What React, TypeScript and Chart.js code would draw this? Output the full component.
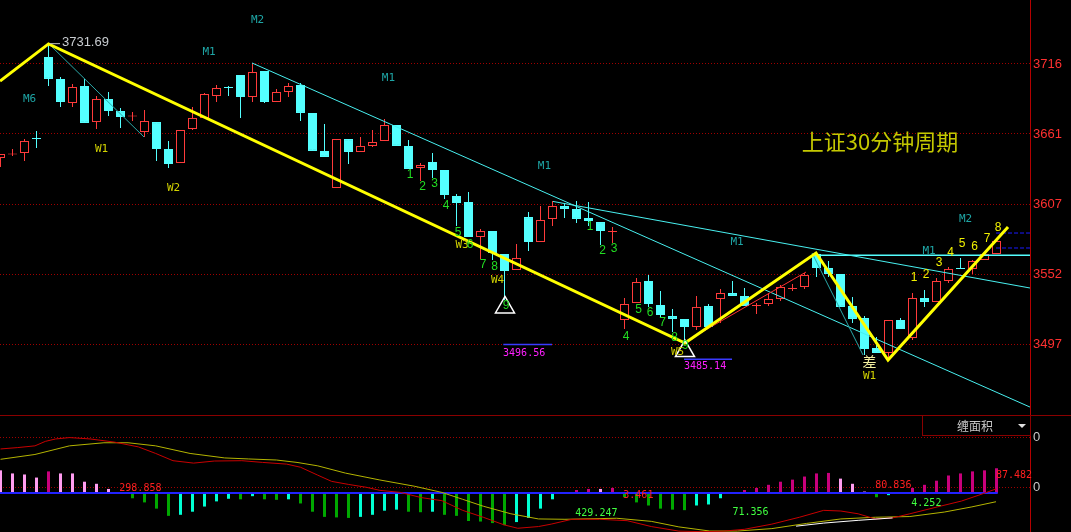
import React, { useEffect, useRef } from 'react';
import { Chart, registerables } from 'chart.js';

Chart.register(...registerables);

// ---------------- price panel data (30-minute candles) ----------------
const opens = [
  3642.5, 3645.2, 3646.4, 3657.6, 3721.5, 3704.3, 3685.5, 3698.8, 3670.6, 3688.6,
  3679.2, 3674.9, 3662.8, 3670.6, 3649.5, 3638.6, 3665.2, 3673.8, 3691.0, 3697.6,
  3707.4, 3690.2, 3710.5, 3686.3, 3694.1, 3699.6, 3677.7, 3648.0, 3619.0, 3657.3,
  3647.2, 3651.9, 3655.8, 3668.3, 3651.9, 3634.7, 3639.4, 3633.1, 3612.8, 3608.1,
  3580.7, 3585.4, 3567.4, 3554.9, 3596.3, 3576.8, 3594.8, 3604.9, 3602.6, 3595.6,
  3592.4, 3584.6, 3515.8, 3529.1, 3546.3, 3527.5, 3518.9, 3516.6, 3510.3, 3526.7,
  3532.2, 3536.9, 3534.6, 3526.7, 3528.3, 3532.2, 3540.0, 3541.6, 3567.4, 3556.4,
  3551.8, 3526.7, 3517.3, 3493.9, 3490.0, 3515.8, 3501.7, 3533.0, 3529.9, 3546.3,
  3556.0, 3555.7, 3562.7, 3567.4,
];
const highs = [
  3645.6, 3649.5, 3657.3, 3663.6, 3731.69, 3705.8, 3700.4, 3704.3, 3691.0, 3694.1,
  3681.6, 3678.5, 3680.0, 3670.6, 3655.8, 3664.4, 3682.4, 3693.3, 3699.6, 3698.8,
  3707.4, 3716.8, 3710.5, 3696.4, 3701.1, 3701.1, 3677.7, 3669.1, 3657.3, 3657.3,
  3658.9, 3664.4, 3673.0, 3668.3, 3656.6, 3638.6, 3646.4, 3633.1, 3614.3, 3615.9,
  3587.0, 3585.4, 3567.4, 3575.2, 3600.3, 3604.9, 3608.9, 3607.3, 3608.9, 3608.1,
  3592.4, 3588.5, 3533.0, 3548.6, 3551.0, 3538.5, 3524.4, 3516.6, 3534.6, 3528.3,
  3540.0, 3546.3, 3540.8, 3529.1, 3536.9, 3543.2, 3543.9, 3552.5, 3568.2, 3561.9,
  3551.8, 3533.8, 3518.9, 3502.5, 3515.8, 3517.3, 3536.9, 3539.2, 3548.6, 3557.2,
  3564.3, 3562.7, 3567.4, 3577.6,
];
const lows = [
  3635.4, 3644.0, 3640.1, 3650.3, 3698.8, 3682.4, 3682.4, 3669.9, 3665.2, 3675.3,
  3666.0, 3671.4, 3658.9, 3640.1, 3634.7, 3638.6, 3664.4, 3673.8, 3686.3, 3691.0,
  3673.8, 3686.3, 3685.5, 3686.3, 3690.2, 3671.4, 3648.0, 3643.3, 3619.0, 3637.8,
  3647.2, 3651.1, 3655.8, 3651.9, 3633.9, 3624.5, 3626.8, 3610.4, 3589.3, 3580.7,
  3563.5, 3562.7, 3531.4, 3554.9, 3569.7, 3576.8, 3589.3, 3595.6, 3591.6, 3589.3,
  3574.4, 3576.0, 3508.7, 3529.1, 3526.0, 3518.1, 3506.4, 3497.0, 3508.0, 3510.3,
  3513.4, 3534.6, 3526.7, 3520.5, 3526.7, 3530.6, 3538.5, 3540.0, 3549.4, 3549.4,
  3526.0, 3513.4, 3488.4, 3490.0, 3486.1, 3508.7, 3500.1, 3526.0, 3529.9, 3544.7,
  3555.7, 3551.8, 3562.7, 3567.4,
];
const closes = [
  3645.6, 3645.6, 3655.8, 3657.3, 3704.3, 3686.3, 3698.0, 3669.9, 3688.6, 3679.2,
  3674.5, 3675.3, 3671.4, 3649.5, 3637.8, 3664.4, 3673.8, 3692.5, 3697.2, 3697.2,
  3690.2, 3709.7, 3686.3, 3694.1, 3698.8, 3677.7, 3648.0, 3643.3, 3657.3, 3647.2,
  3651.9, 3655.0, 3668.3, 3651.9, 3633.9, 3637.0, 3633.1, 3613.5, 3607.3, 3580.7,
  3585.4, 3568.2, 3554.1, 3564.3, 3576.8, 3594.0, 3604.9, 3602.6, 3594.8, 3593.2,
  3585.4, 3585.4, 3528.3, 3545.5, 3528.3, 3519.7, 3516.6, 3510.3, 3526.0, 3510.3,
  3536.9, 3534.6, 3526.7, 3527.5, 3532.2, 3541.6, 3540.8, 3551.0, 3556.4, 3551.8,
  3526.0, 3516.6, 3493.1, 3490.0, 3515.8, 3508.7, 3533.0, 3529.9, 3546.3, 3555.7,
  3555.7, 3561.9, 3567.4, 3577.6,
];

const priceTickValues = [3716, 3661.25, 3606.5, 3551.75, 3497];
const priceTickLabels = ['3716', '3661', '3607', '3552', '3497'];
const PRICE_MIN = 3441.48;
const PRICE_MAX = 3766.05;

// trend lines (index, price)
const zigzagIdx = [-0.04, 4, 57.04, 67.96, 73.96, 83.96];
const zigzagPrice = [3702.7, 3731.69, 3497.8, 3568.2, 3484.5, 3588.5];
const redSeg1Idx = [57.08, 67.13];
const redSeg1Price = [3498.9, 3553.3];
const redSeg2Idx = [74.13, 78.71];
const redSeg2Price = [3485.7, 3534.6];
const tealSeg1Idx = [3.96, 11.96];
const tealSeg1Price = [3732.4, 3658.9];
const tealSeg2Idx = [67.63, 71.88];
const tealSeg2Price = [3568.2, 3488.4];
const cyanLine1Idx = [20.96, 85.79];
const cyanLine1Price = [3716.8, 3447.7];
const cyanLine2Idx = [46.04, 85.79];
const cyanLine2Price = [3608.5, 3540.8];
const cyanFlatIdx = [67.96, 85.79];
const cyanFlatPrice = [3566.4, 3566.4];
const blueDashIdx = [82.96, 85.79];
const blueDashPrices = [3583.8, 3572.1];
const peakTagIdx = [4.13, 4.96];
const peakTagPrice = [3731.9, 3731.9];
const lowTagIdx1 = [41.9, 45.96];
const lowTagPrice1 = 3496.56;
const lowTagIdx2 = [56.96, 60.96];
const lowTagPrice2 = 3485.14;
const triangleIdx = [42.04, 57.04];
const trianglePrice = [3525.6, 3491.5];

// ---------------- indicator panel data ----------------
const macdBars = [
  80.2, 69.3, 65.6, 54.7, 76.5, 69.3, 69.3, 40.1, 32.8, 14.6,
  -1.8, -18.2, -32.8, -54.7, -80.2, -76.5, -65.6, -47.4, -29.2, -20.0,
  -21.9, -10.9, -21.9, -23.7, -21.9, -36.5, -65.6, -83.8, -85.7, -87.5,
  -83.8, -76.5, -62.0, -58.3, -65.6, -67.4, -65.6, -76.5, -80.2, -98.4,
  -100.2, -105.7, -113.0, -102.1, -87.5, -54.7, -21.9, -2.9, 10.9, 14.6,
  14.6, 18.2, -14.6, -32.8, -43.7, -54.7, -58.3, -60.1, -43.7, -40.1,
  -18.2, 3.6, 10.9, 18.2, 29.2, 40.1, 47.4, 58.3, 69.3, 71.1,
  51.0, 32.8, 5.5, -14.6, -7.3, 3.6, 18.2, 29.2, 43.7, 62.0,
  69.3, 76.5, 80.2, 87.5,
];
const difIdx = [
  0, 1.44, 2.87, 3.74, 4.6, 5.75, 7.47, 9.48, 11.49, 12.93, 14.37, 16.09, 17.82,
  20.11, 21.84, 23.85, 25.0, 26.44, 27.59, 29.02, 30.46, 31.61, 33.33, 35.06, 36.78,
  38.51, 40.23, 41.95, 43.1, 44.83, 45.89, 47.62, 49.92, 52.22, 54.23, 56.53, 58.54,
  60.26, 61.99, 64.28, 66.58, 68.6, 70.03, 71.47, 72.91, 74.34, 75.78, 78.08, 80.09,
  81.53, 82.96,
];
const difVal = [
  155.5, 160.4, 166.5, 182.3, 190.8, 195.6, 190.8, 179.8, 162.8, 139.7, 114.2, 105.7, 113.0,
  114.2, 108.1, 102.1, 91.1, 63.2, 41.3, 30.4, 20.7, 9.7, 2.4, -15.8, -26.7,
  -60.8, -85.1, -111.8, -123.9, -117.9, -109.4, -92.3, -92.3, -97.2, -117.9, -134.0, -136.0,
  -134.0, -127.6, -109.4, -85.1, -60.8, -63.2, -72.9, -91.1, -87.5, -72.9, -48.6, -27.9,
  -7.3, 14.6,
];
const deaIdx = [
  0, 2.87, 5.75, 8.62, 10.63, 12.93, 15.8, 18.68, 20.69, 22.99, 24.71, 26.44, 28.74,
  31.61, 34.48, 36.78, 38.51, 40.23, 42.53, 44.83, 47.04, 51.35, 54.23, 56.53, 59.11,
  61.41, 64.28, 67.16, 70.03, 72.91, 75.78, 78.65, 80.95, 82.96,
];
const deaVal = [
  119.1, 136.1, 166.5, 177.4, 177.4, 166.5, 139.7, 123.9, 120.3, 116.6, 108.1, 96.0, 70.5,
  46.2, 24.3, 2.4, -21.9, -46.2, -72.9, -91.1, -92.3, -88.7, -99.6, -119.1, -133.7,
  -133.7, -125.1, -106.9, -91.1, -85.1, -82.6, -66.8, -48.6, -30.4,
];
const whiteIdx = [66.3, 68.6, 71.47, 74.34];
const whiteVal = [-116.6, -105.7, -96.0, -87.5];
const zeroLineIdx = [-0.05, 83.1];
const macdTickValues = [197.0, 20.8];
const macdTickLabels = ['0', '0'];
const MACD_MIN = -137.1;
const MACD_MAX = 275.2;

const X_MIN = -0.0417;
const X_MAX = 85.7917;

// ---------------- styles ----------------
const RED = '#ff3b3b';
const CYAN = '#54ffff';
const TEAL = '#1ea5a5';
const WYEL = '#d2d200';
const GRN = '#22dd22';
const NYEL = '#f0f000';
const MONO = "11px 'DejaVu Sans Mono', monospace";
const MONO10 = "10px 'DejaVu Sans Mono', monospace";
const NUM = "12px 'Liberation Sans', Arial, sans-serif";

const topTexts = [
  { t: 'M6', x: 2.42, y: 3688.6, c: TEAL, f: MONO },
  { t: 'M1', x: 17.38, y: 3725.4, c: TEAL, f: MONO },
  { t: 'M2', x: 21.42, y: 3750.4, c: TEAL, f: MONO },
  { t: 'M1', x: 32.33, y: 3704.7, c: TEAL, f: MONO },
  { t: 'M1', x: 45.33, y: 3635.8, c: TEAL, f: MONO },
  { t: 'M1', x: 61.38, y: 3576.8, c: TEAL, f: MONO },
  { t: 'M1', x: 77.38, y: 3569.7, c: TEAL, f: MONO },
  { t: 'M2', x: 80.42, y: 3594.8, c: TEAL, f: MONO },
  { t: 'W1', x: 8.42, y: 3649.1, c: WYEL, f: MONO },
  { t: 'W2', x: 14.42, y: 3619.0, c: WYEL, f: MONO },
  { t: 'W3', x: 38.46, y: 3574.4, c: WYEL, f: MONO },
  { t: 'W4', x: 41.42, y: 3546.7, c: WYEL, f: MONO },
  { t: 'W5', x: 56.42, y: 3490.4, c: WYEL, f: MONO },
  { t: 'W1', x: 72.42, y: 3471.6, c: WYEL, f: MONO },
  { t: '1', x: 34.13, y: 3629.3, c: GRN, f: NUM },
  { t: '2', x: 35.17, y: 3619.9, c: GRN, f: NUM },
  { t: '3', x: 36.17, y: 3622.3, c: GRN, f: NUM },
  { t: '4', x: 37.13, y: 3605.1, c: GRN, f: NUM },
  { t: '5', x: 38.13, y: 3584.3, c: GRN, f: NUM },
  { t: '6', x: 39.13, y: 3574.5, c: GRN, f: NUM },
  { t: '7', x: 40.21, y: 3558.9, c: GRN, f: NUM },
  { t: '8', x: 41.17, y: 3557.7, c: GRN, f: NUM },
  { t: '9', x: 42.13, y: 3527.1, c: GRN, f: NUM },
  { t: '1', x: 49.13, y: 3588.6, c: GRN, f: NUM },
  { t: '2', x: 50.17, y: 3569.8, c: GRN, f: NUM },
  { t: '3', x: 51.13, y: 3571.4, c: GRN, f: NUM },
  { t: '4', x: 52.13, y: 3502.9, c: GRN, f: NUM },
  { t: '5', x: 53.17, y: 3524.0, c: GRN, f: NUM },
  { t: '6', x: 54.13, y: 3521.7, c: GRN, f: NUM },
  { t: '7', x: 55.17, y: 3513.8, c: GRN, f: NUM },
  { t: '8', x: 56.17, y: 3501.7, c: GRN, f: NUM },
  { t: '9', x: 57.08, y: 3495.8, c: GRN, f: NUM },
  { t: '1', x: 76.13, y: 3549.1, c: NYEL, f: NUM },
  { t: '2', x: 77.13, y: 3551.0, c: NYEL, f: NUM },
  { t: '3', x: 78.21, y: 3560.8, c: NYEL, f: NUM },
  { t: '4', x: 79.17, y: 3568.3, c: NYEL, f: NUM },
  { t: '5', x: 80.13, y: 3575.3, c: NYEL, f: NUM },
  { t: '6', x: 81.17, y: 3573.3, c: NYEL, f: NUM },
  { t: '7', x: 82.21, y: 3579.6, c: NYEL, f: NUM },
  { t: '8', x: 83.13, y: 3588.2, c: NYEL, f: NUM },
  { t: '差', x: 72.42, y: 3482.9, c: '#f4f0a0', f: "14px 'Noto Sans CJK SC', sans-serif" },
  { t: '上证30分钟周期', x: 73.29, y: 3655.2, c: '#c4c800', f: "22px 'Noto Sans CJK SC', sans-serif" },
  { t: '3731.69', x: 5.12, y: 3733.2, c: '#c8ccd0', f: "13px 'Liberation Sans', Arial, sans-serif", a: 'left' },
  { t: '3496.56', x: 41.88, y: 3490.0, c: '#ff20ff', f: MONO10, a: 'left' },
  { t: '3485.14', x: 56.96, y: 3479.3, c: '#ff20ff', f: MONO10, a: 'left' },
];

const macdTexts = [
  { t: '298.858', x: 9.9, y: 15.8, c: '#ff2020', f: MONO10, a: 'left' },
  { t: '3.461', x: 51.9, y: -7.3, c: '#ff2020', f: MONO10, a: 'left' },
  { t: '429.247', x: 47.9, y: -72.9, c: '#40ff40', f: MONO10, a: 'left' },
  { t: '71.356', x: 61.0, y: -66.8, c: '#40ff40', f: MONO10, a: 'left' },
  { t: '80.836', x: 72.9, y: 26.7, c: '#ff2020', f: MONO10, a: 'left' },
  { t: '4.252', x: 75.9, y: -36.5, c: '#40ff40', f: MONO10, a: 'left' },
  { t: '87.482', x: 82.96, y: 63.2, c: '#ff2020', f: MONO10, a: 'left' },
];

const pts = (xs: number[], ys: number[]) => xs.map((x, i) => ({ x, y: ys[i] }));

const seg = (data: any[], color: string, width: number, order: number, dash: number[] = []) => ({
  type: 'line',
  data,
  borderColor: color,
  borderWidth: width,
  borderDash: dash,
  pointRadius: 0,
  fill: false,
  tension: 0,
  order,
});

const textPlugin = (id: string, items: any[]) => ({
  id,
  afterDatasetsDraw(chart: any) {
    const { ctx, scales } = chart;
    ctx.save();
    for (const it of items) {
      ctx.font = it.f;
      ctx.fillStyle = it.c;
      ctx.textAlign = it.a || 'center';
      ctx.textBaseline = 'middle';
      ctx.fillText(it.t, scales.x.getPixelForValue(it.x), scales.y.getPixelForValue(it.y));
    }
    ctx.restore();
  },
});

const panelPlugin = {
  id: 'panelFrame',
  afterDraw(chart: any) {
    const { ctx } = chart;
    ctx.save();
    ctx.fillStyle = '#8a0000';
    ctx.fillRect(0, 0, 1071, 1);
    ctx.strokeStyle = '#8a0000';
    ctx.lineWidth = 1;
    ctx.strokeRect(922.5, 0.5, 108, 20);
    ctx.fillStyle = '#c8c8c8';
    ctx.font = "12px 'Noto Sans CJK SC', sans-serif";
    ctx.textAlign = 'center';
    ctx.textBaseline = 'middle';
    ctx.fillText('缠面积', 975, 11);
    ctx.fillStyle = '#e0e0e0';
    ctx.beginPath();
    ctx.moveTo(1018, 9);
    ctx.lineTo(1026, 9);
    ctx.lineTo(1022, 13);
    ctx.closePath();
    ctx.fill();
    ctx.restore();
  },
};

function baseOptions(yMin: number, yMax: number, tickVals: number[], tickLabels: string[], tickColor: string) {
  return {
    responsive: false,
    animation: false,
    devicePixelRatio: 1,
    events: [],
    layout: { padding: 0, autoPadding: false },
    plugins: { legend: { display: false }, tooltip: { enabled: false }, title: { display: false } },
    scales: {
      x: {
        type: 'linear',
        display: false,
        min: X_MIN,
        max: X_MAX,
        offset: false,
        ticks: { display: false },
        grid: { display: false },
      },
      y: {
        type: 'linear',
        position: 'right',
        min: yMin,
        max: yMax,
        bounds: 'data',
        afterBuildTicks: (s: any) => {
          s.ticks = tickVals.map((v) => ({ value: v }));
        },
        afterFit: (s: any) => {
          s.width = 41;
          s.paddingTop = 0;
          s.paddingBottom = 0;
        },
        grid: { color: '#a00000', lineWidth: 1, drawTicks: false },
        border: { display: true, color: '#b40000', width: 1, dash: [1, 2] },
        ticks: {
          color: tickColor,
          padding: 3,
          autoSkip: false,
          font: { family: "'Liberation Sans', Arial, sans-serif", size: 13 },
          callback: (_v: any, i: number) => tickLabels[i],
        },
      },
    },
  };
}

export default function App() {
  const topRef = useRef<HTMLCanvasElement>(null);
  const botRef = useRef<HTMLCanvasElement>(null);

  useEffect(() => {
    const up = closes.map((c, i) => c > opens[i]);

    const top = new Chart(topRef.current as HTMLCanvasElement, {
      type: 'bar',
      data: {
        datasets: [
          {
            type: 'bar',
            data: lows.map((l, i) => ({ x: i, y: [l, highs[i]] })),
            backgroundColor: up.map((u) => (u ? RED : CYAN)),
            borderWidth: 0,
            barThickness: 1,
            grouped: false,
            minBarLength: 1,
            inflateAmount: 0,
            order: 9,
          },
          {
            type: 'bar',
            data: opens.map((o, i) => ({ x: i, y: [o, closes[i]] })),
            backgroundColor: up.map((u) => (u ? '#000000' : CYAN)),
            borderColor: up.map((u) => (u ? RED : CYAN)),
            borderWidth: 1,
            borderSkipped: false,
            barThickness: 9,
            grouped: false,
            minBarLength: 1,
            inflateAmount: 0,
            order: 8,
          },
          seg(pts(tealSeg1Idx, tealSeg1Price), '#2aa8a8', 1, 6),
          seg(pts(tealSeg2Idx, tealSeg2Price), '#2aa8a8', 1, 6),
          seg(pts(cyanLine1Idx, cyanLine1Price), '#48f0f0', 1, 6),
          seg(pts(cyanLine2Idx, cyanLine2Price), '#48f0f0', 1, 6),
          seg(pts(cyanFlatIdx, cyanFlatPrice), '#54ffff', 1.5, 6),
          seg(pts(blueDashIdx, [blueDashPrices[0], blueDashPrices[0]]), '#1a1aff', 1, 6, [4, 2]),
          seg(pts(blueDashIdx, [blueDashPrices[1], blueDashPrices[1]]), '#1a1aff', 1, 6, [4, 2]),
          seg(pts(redSeg1Idx, redSeg1Price), '#ff3030', 1, 5),
          seg(pts(redSeg2Idx, redSeg2Price), '#ff3030', 1, 5),
          seg(pts(zigzagIdx, zigzagPrice), '#ffff00', 3, 4),
          seg(pts(peakTagIdx, peakTagPrice), '#c0c0c0', 1, 3),
          seg(pts(lowTagIdx1, [lowTagPrice1, lowTagPrice1]), '#3a3aff', 1.5, 3),
          seg(pts(lowTagIdx2, [lowTagPrice2, lowTagPrice2]), '#3a3aff', 1.5, 3),
          {
            type: 'line',
            data: pts(triangleIdx, trianglePrice),
            showLine: false,
            pointStyle: 'triangle',
            pointRadius: 11,
            pointBorderColor: '#ffffff',
            pointBackgroundColor: 'rgba(0,0,0,0)',
            pointBorderWidth: 1.5,
            order: 2,
          },
        ] as any,
      },
      options: baseOptions(PRICE_MIN, PRICE_MAX, priceTickValues, priceTickLabels, '#ff3030') as any,
      plugins: [textPlugin('topTexts', topTexts)],
    });

    const barColors = macdBars.map((v, i) => {
      const prev = i > 0 ? macdBars[i - 1] : v;
      if (v >= 0) return v > prev ? '#c8007c' : '#ff9cf0';
      return v < prev ? '#00a800' : '#00ffd2';
    });

    const bot = new Chart(botRef.current as HTMLCanvasElement, {
      type: 'bar',
      data: {
        datasets: [
          {
            type: 'bar',
            data: macdBars.map((v, i) => ({ x: i, y: v })),
            backgroundColor: barColors,
            borderWidth: 0,
            barThickness: 3,
            grouped: false,
            inflateAmount: 0,
            order: 9,
          },
          seg(pts(zeroLineIdx, [0, 0]), '#2222ff', 2, 5),
          seg(pts(deaIdx, deaVal), '#b4b400', 1, 4),
          seg(pts(difIdx, difVal), '#c80000', 1, 3),
          seg(pts(whiteIdx, whiteVal), '#ffffff', 1, 2),
        ] as any,
      },
      options: baseOptions(MACD_MIN, MACD_MAX, macdTickValues, macdTickLabels, '#c8c8c8') as any,
      plugins: [textPlugin('macdTexts', macdTexts), panelPlugin],
    });

    return () => {
      top.destroy();
      bot.destroy();
    };
  }, []);

  return (
    <div
      style={{
        position: 'fixed',
        left: 0,
        top: 0,
        width: 1071,
        height: 532,
        background: '#000',
        overflow: 'hidden',
      }}
    >
      <canvas ref={topRef} width={1071} height={415} style={{ position: 'absolute', left: 0, top: 0 }} />
      <canvas ref={botRef} width={1071} height={117} style={{ position: 'absolute', left: 0, top: 415 }} />
    </div>
  );
}
